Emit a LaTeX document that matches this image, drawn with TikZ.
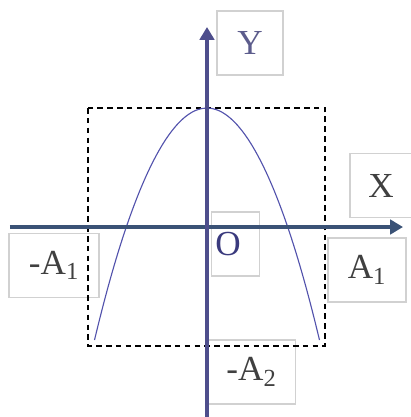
\documentclass[tikz,border=0pt]{standalone}
\usepackage{fontspec}
\setmainfont{Liberation Serif}
\usetikzlibrary{arrows.meta}
\definecolor{xaxiscol}{RGB}{58,82,118}
\definecolor{yaxiscol}{RGB}{78,78,140}
\definecolor{curvecol}{RGB}{82,82,172}
\definecolor{ocol}{RGB}{58,58,125}
\definecolor{ycol}{RGB}{92,92,140}

\begin{document}
\begin{tikzpicture}[
      x=0.025cm, y=-0.025cm,
      axis/.style={-{Triangle[length=0.32cm, width=0.36cm]}, line width=2.2pt},
      labelbox/.style={draw=black!18, line width=0.8pt, inner sep=0pt,
        font=\fontsize{25}{30}\selectfont, text=black!75},
      curve/.style={draw=curvecol, line width=0.8pt}
    ]
    \useasboundingbox (0,0) rectangle (411,417);
    % label boxes
    \node[labelbox, minimum width=1.65cm, minimum height=1.6cm, text=ycol] (Y) at (250,43) {Y};
    \node[labelbox, minimum width=1.55cm, minimum height=1.58cm] (X) at (381,185.5) {X};
    \node[labelbox, minimum height=1.6cm, text width=1.0cm, inner xsep=0.09cm, align=left,
      text=ocol] (O) at (235.5,244) {O};
    \node[labelbox, minimum width=2.25cm, minimum height=1.62cm] (mA1) at (54,265.5) {-A\textsubscript{1}};
    \node[labelbox, minimum width=1.95cm, minimum height=1.6cm] (A1) at (367,270) {A\textsubscript{1}};
    \node[labelbox, minimum width=2.22cm, minimum height=1.6cm] (mA2) at (251.5,372) {-A\textsubscript{2}};
    % frame and curve
    \coordinate (top) at (207,108);
    \draw[dashed, line width=0.9pt, dash pattern=on 4pt off 3pt] (88,108) rectangle (325,346);
    \draw[curve] (94.5,340) parabola bend (top) (319.5,340);
    % axes
    \coordinate (xs) at (10,227);
    \coordinate (xe) at (403,227);
    \coordinate (ys) at (207,417);
    \coordinate (ye) at (207,27);
    \draw[axis, color=xaxiscol] (xs) -- (xe);
    \draw[axis, color=yaxiscol] (ys) -- (ye);
\end{tikzpicture}
\end{document}
